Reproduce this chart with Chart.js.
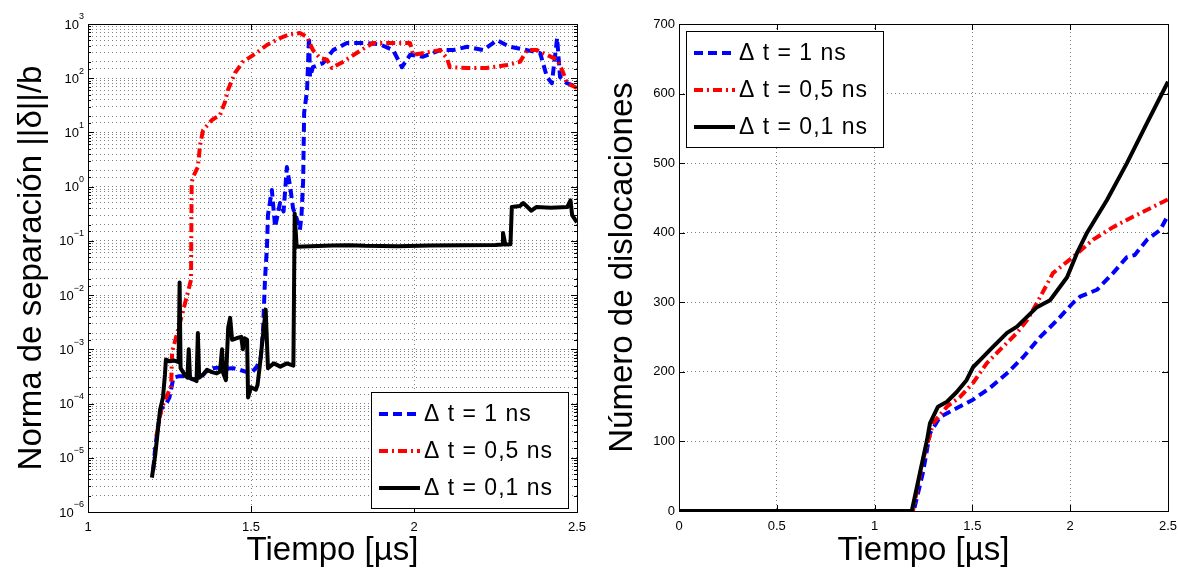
<!DOCTYPE html>
<html>
<head>
<meta charset="utf-8">
<script src="https://cdn.jsdelivr.net/npm/chart.js@4.4.1/dist/chart.umd.min.js"></script>
<style>
  html, body { margin: 0; padding: 0; background: #fff; }
  .panel { position: absolute; top: 0; width: 589px; height: 568px; }
  #left { left: 0; }
  #right { left: 589px; }
</style>
</head>
<body>
<div class="panel" id="left"><canvas id="sepChart"></canvas></div>
<div class="panel" id="right"><canvas id="disChart"></canvas></div>
<script>
const seriesLabels = ['Δ t = 1 ns', 'Δ t = 0,5 ns', 'Δ t = 0,1 ns'];

// separation norm ||δ||/b vs time [µs] (log axis)
const sepT1 = [1.200, 1.206, 1.215, 1.225, 1.240, 1.250, 1.262, 1.280, 1.300, 1.320,
  1.344, 1.360, 1.383, 1.400, 1.420, 1.445, 1.465, 1.488, 1.500, 1.518,
  1.530, 1.537, 1.543, 1.549, 1.552, 1.564, 1.574, 1.589, 1.600, 1.610,
  1.620, 1.629, 1.641, 1.650, 1.655, 1.660, 1.663, 1.672, 1.675, 1.678,
  1.681, 1.690, 1.721, 1.752, 1.794, 1.856, 1.896, 1.936, 1.963, 1.988,
  2.028, 2.080, 2.120, 2.163, 2.212, 2.255, 2.294, 2.347, 2.387, 2.408,
  2.423, 2.439, 2.448, 2.469, 2.500];
const sepV1 = [6e-6, 1.5e-5, 4e-5, 8e-5, 1.0e-4, 1.3e-4, 3.0e-4, 3.2e-4, 3.2e-4, 2.8e-4,
  2.9e-4, 3.8e-4, 4.5e-4, 4.6e-4, 4.4e-4, 4.5e-4, 4.2e-4, 3.8e-4, 3.6e-4, 4.8e-4,
  7e-4, 2.3e-3, 0.02, 0.078, 0.3, 0.87, 0.18, 0.5, 0.35, 2.3,
  1.0, 0.4, 0.25, 0.16, 0.3, 1.3, 23, 60, 190, 580,
  105, 160, 190, 330, 445, 445, 420, 330, 160, 270,
  250, 330, 330, 380, 330, 500, 380, 330, 290, 105,
  81, 550, 105, 81, 69];

const sepT05 = [1.210, 1.225, 1.240, 1.255, 1.258, 1.262, 1.290, 1.316, 1.318, 1.322,
  1.337, 1.344, 1.353, 1.380, 1.405, 1.420, 1.429, 1.451, 1.475, 1.512,
  1.549, 1.589, 1.620, 1.650, 1.672, 1.690, 1.712, 1.733, 1.748, 1.782,
  1.825, 1.874, 1.917, 1.988, 1.997, 2.040, 2.080, 2.101, 2.110, 2.163,
  2.224, 2.285, 2.325, 2.347, 2.377, 2.439, 2.457, 2.469, 2.500];
const sepV05 = [2.5e-5, 8e-5, 1.3e-4, 2.1e-4, 9e-4, 1.1e-3, 4.7e-3, 1.9e-2, 1.2, 1.5,
  2.3, 6, 11, 17, 21, 36, 60, 125, 200, 280,
  410, 550, 650, 680, 575, 330, 235, 220, 155, 200,
  295, 445, 445, 445, 270, 300, 330, 235, 160, 155,
  155, 175, 200, 330, 330, 220, 130, 81, 66];

const sepT01 = [1.196, 1.206, 1.221, 1.230, 1.236, 1.239, 1.250, 1.265, 1.278, 1.281,
  1.284, 1.295, 1.305, 1.309, 1.313, 1.322, 1.333, 1.337, 1.341, 1.355,
  1.365, 1.380, 1.395, 1.405, 1.411, 1.415, 1.423, 1.430, 1.436, 1.442,
  1.455, 1.470, 1.475, 1.480, 1.488, 1.491, 1.500, 1.515, 1.520, 1.527,
  1.545, 1.552, 1.570, 1.590, 1.610, 1.630, 1.634, 1.640, 1.660, 1.750,
  1.800, 1.850, 1.950, 2.050, 2.150, 2.250, 2.270, 2.273, 2.280, 2.296,
  2.300, 2.325, 2.335, 2.345, 2.360, 2.375, 2.420, 2.470, 2.480, 2.485,
  2.500];
const sepV01 = [4.3e-6, 1.1e-5, 7.6e-5, 1.3e-4, 3.4e-4, 6.5e-4, 6.0e-4, 6.2e-4, 5.8e-4, 1.7e-2,
  4.5e-4, 3.5e-4, 3.0e-4, 1.0e-3, 3.0e-4, 2.8e-4, 2.6e-4, 2.0e-3, 3.0e-4, 3.5e-4,
  4.2e-4, 3.8e-4, 3.6e-4, 3.9e-4, 1.0e-3, 3.6e-4, 2.7e-4, 2.5e-3, 3.8e-3, 1.5e-3,
  1.6e-3, 1.7e-3, 1.0e-3, 1.6e-3, 1.5e-3, 1.3e-4, 2.0e-4, 1.8e-4, 2.2e-4, 5.0e-4,
  5.4e-3, 4.5e-4, 5.5e-4, 4.8e-4, 5.5e-4, 5.0e-4, 0.32, 0.078, 0.079, 0.082,
  0.083, 0.081, 0.080, 0.082, 0.083, 0.084, 0.086, 0.14, 0.086, 0.087,
  0.42, 0.44, 0.50, 0.44, 0.36, 0.42, 0.41, 0.42, 0.56, 0.30,
  0.22];

// number of dislocations vs time [µs]
const disT1 = [0, 1.200, 1.247, 1.283, 1.334, 1.421, 1.503, 1.590, 1.677, 1.759,
  1.846, 1.932, 2.014, 2.050, 2.137, 2.219, 2.290, 2.330, 2.393, 2.460, 2.500];
const disN1 = [0, 0, 55, 112, 135, 148, 160, 177, 198, 221,
  250, 274, 299, 308, 318, 342, 365, 368, 390, 404, 425];

const disT05 = [0, 1.196, 1.247, 1.299, 1.370, 1.437, 1.503, 1.575, 1.656, 1.728,
  1.779, 1.830, 1.912, 2.014, 2.117, 2.219, 2.321, 2.423, 2.500];
const disN05 = [0, 0, 73, 126, 150, 164, 184, 213, 236, 256,
  274, 299, 342, 365, 390, 408, 423, 437, 448];

const disT01 = [0, 1.190, 1.232, 1.268, 1.283, 1.324, 1.370, 1.420, 1.470, 1.504,
  1.539, 1.605, 1.677, 1.728, 1.779, 1.830, 1.897, 1.984, 2.035, 2.086,
  2.188, 2.290, 2.393, 2.500];
const disN01 = [0, 0, 55, 102, 126, 150, 157, 171, 188, 207,
  217, 236, 256, 265, 279, 293, 303, 336, 371, 400,
  447, 500, 558, 617];

const seriesColors = ['#0000ff', '#ff0000', '#000000'];
const seriesDash = [[9, 5], [9, 4, 2, 4], []];

Chart.defaults.font.family = '"Liberation Sans", Arial, Helvetica, sans-serif';
Chart.defaults.color = '#000';

const toXY = (ts, vs) => ts.map((t, i) => ({ x: t, y: vs[i] }));
const isDecade = v => Math.abs(Math.log10(v) - Math.round(Math.log10(v))) < 1e-9;

function makeDatasets(pairs) {
  return pairs.map(([ts, vs], i) => ({
    label: seriesLabels[i],
    data: toXY(ts, vs),
    borderColor: seriesColors[i],
    borderDash: seriesDash[i],
    borderWidth: 4,
    borderJoinStyle: 'round',
    pointRadius: 0,
    tension: 0,
    order: 3 - i,
  }));
}

// axes box with inward tick marks
const framePlugin = {
  id: 'frame',
  afterDraw(chart) {
    const { ctx, chartArea: a, scales: { x, y } } = chart;
    ctx.save();
    ctx.strokeStyle = '#000';
    ctx.lineWidth = 1;
    ctx.setLineDash([]);
    ctx.strokeRect(a.left + 0.5, a.top + 0.5, a.right - a.left, a.bottom - a.top);
    ctx.beginPath();
    x.ticks.forEach(t => {
      const px = Math.round(x.getPixelForValue(t.value)) + 0.5;
      ctx.moveTo(px, a.bottom); ctx.lineTo(px, a.bottom - 6);
      ctx.moveTo(px, a.top); ctx.lineTo(px, a.top + 6);
    });
    y.ticks.forEach(t => {
      const len = (y.type === 'logarithmic' && !isDecade(t.value)) ? 3 : 6;
      const py = Math.round(y.getPixelForValue(t.value)) + 0.5;
      ctx.moveTo(a.left, py); ctx.lineTo(a.left + len, py);
      ctx.moveTo(a.right, py); ctx.lineTo(a.right - len, py);
    });
    ctx.stroke();
    ctx.restore();
  }
};

// 10^n labels for the log axis
const powLabels = {
  id: 'powLabels',
  afterDraw(chart) {
    const y = chart.scales.y;
    if (y.type !== 'logarithmic') return;
    const ctx = chart.ctx;
    const fam = Chart.defaults.font.family;
    ctx.save();
    ctx.fillStyle = '#000';
    ctx.textAlign = 'right';
    ctx.textBaseline = 'middle';
    y.ticks.forEach(t => {
      if (!isDecade(t.value)) return;
      const e = Math.round(Math.log10(t.value));
      const py = y.getPixelForValue(t.value);
      const exp = e < 0 ? '\u2212' + (-e) : String(e);
      const right = y.right - 4;
      ctx.font = '9px ' + fam;
      const ew = ctx.measureText(exp).width;
      ctx.fillText(exp, right, py - 7);
      ctx.font = '13px ' + fam;
      ctx.fillText('10', right - ew, py + 1);
    });
    ctx.restore();
  }
};

// legend box drawn inside the axes
const legendBox = {
  id: 'legendBox',
  afterDraw(chart, args, opts) {
    const { ctx, chartArea: a } = chart;
    const w = 197, h = 116;
    const left = opts.corner === 'br' ? a.right - 9 - w : a.left + 7;
    const top = opts.corner === 'br' ? a.bottom - 4 - h : a.top + 7;
    ctx.save();
    ctx.fillStyle = '#fff';
    ctx.fillRect(left, top, w, h);
    ctx.strokeStyle = '#000';
    ctx.lineWidth = 1;
    ctx.strokeRect(left + 0.5, top + 0.5, w, h);
    ctx.font = '23px ' + Chart.defaults.font.family;
    ctx.letterSpacing = '1px';
    ctx.textBaseline = 'middle';
    ctx.textAlign = 'left';
    chart.data.datasets.forEach((ds, i) => {
      const cy = top + 22 + i * 37;
      ctx.strokeStyle = ds.borderColor;
      ctx.lineWidth = 4;
      ctx.setLineDash(ds.borderDash);
      ctx.beginPath();
      ctx.moveTo(left + 8, cy);
      ctx.lineTo(left + 49, cy);
      ctx.stroke();
      ctx.setLineDash([]);
      ctx.fillStyle = '#000';
      ctx.fillText(ds.label, left + 53, cy + 1);
    });
    ctx.restore();
  }
};

const dotted = { display: false, dash: [1, 3] };
const gridStyle = { color: 'rgba(0,0,0,0.5)', lineWidth: 1, drawTicks: false };
const numLabel = v => String(Math.round(v * 100) / 100);
// keep the plot box fixed: no extra room for edge tick labels
const fixX = h => s => { s.height = h; s.paddingLeft = 0; s.paddingRight = 0; };
const fixY = w => s => { s.width = w; s.paddingTop = 0; s.paddingBottom = 0; };

new Chart(document.getElementById('sepChart'), {
  type: 'line',
  data: {
    datasets: makeDatasets([[sepT1, sepV1], [sepT05, sepV05], [sepT01, sepV01]])
  },
  options: {
    responsive: true,
    maintainAspectRatio: false,
    animation: false,
    layout: { padding: { top: 24, right: 12, left: 0, bottom: 0 } },
    plugins: { legend: { display: false }, tooltip: { enabled: false }, legendBox: { corner: 'br' } },
    scales: {
      x: {
        type: 'linear', min: 1, max: 2.5,
        ticks: { stepSize: 0.5, padding: 8, font: { size: 13 }, callback: numLabel },
        grid: gridStyle,
        border: dotted,
        title: { display: true, text: 'Tiempo [µs]', font: { size: 33 }, padding: { top: 0, bottom: -3 } },
        afterFit: fixX(56)
      },
      y: {
        type: 'logarithmic', min: 1e-6, max: 1e3,
        ticks: { display: false, autoSkip: false },
        grid: gridStyle,
        border: dotted,
        title: { display: true, text: 'Norma de separación ||δ||/b', font: { size: 33 }, padding: { top: 12, bottom: 0 } },
        afterFit: fixY(88)
      }
    }
  },
  plugins: [framePlugin, powLabels, legendBox]
});

new Chart(document.getElementById('disChart'), {
  type: 'line',
  data: {
    datasets: makeDatasets([[disT1, disN1], [disT05, disN05], [disT01, disN01]])
  },
  options: {
    responsive: true,
    maintainAspectRatio: false,
    animation: false,
    layout: { padding: { top: 24, right: 10, left: 0, bottom: 0 } },
    plugins: { legend: { display: false }, tooltip: { enabled: false }, legendBox: { corner: 'tl' } },
    scales: {
      x: {
        type: 'linear', min: 0, max: 2.5,
        ticks: { stepSize: 0.5, padding: 8, font: { size: 13 }, callback: numLabel },
        grid: gridStyle,
        border: dotted,
        title: { display: true, text: 'Tiempo [µs]', font: { size: 33 }, padding: { top: 0, bottom: -3 } },
        afterFit: fixX(57)
      },
      y: {
        type: 'linear', min: 0, max: 700,
        ticks: { stepSize: 100, padding: 4, font: { size: 13 }, callback: numLabel },
        grid: gridStyle,
        border: dotted,
        title: { display: true, text: 'Número de dislocaciones', font: { size: 33 }, padding: { top: 14, bottom: 0 } },
        afterFit: fixY(90)
      }
    }
  },
  plugins: [framePlugin, legendBox]
});
</script>
</body>
</html>
